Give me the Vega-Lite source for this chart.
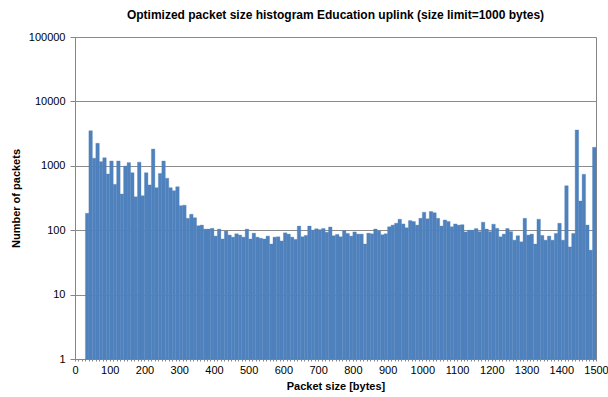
{
  "$schema": "https://vega.github.io/schema/vega-lite/v6.json",
  "width": 521,
  "height": 322,
  "autosize": {"type": "none"},
  "padding": {"left": 75, "top": 37, "right": 12, "bottom": 38},
  "background": "white",
  "config": {"font": "Liberation Sans", "view": {"stroke": "#868686", "strokeWidth": 1}},
  "title": {"text": "Optimized packet size histogram Education uplink (size limit=1000 bytes)", "font": "Liberation Sans", "fontSize": 12, "fontWeight": "bold", "color": "#000000", "offset": 9, "anchor": "middle"},
  "data": {"values": [
    {"lo": 30, "hi": 40, "count": 183},
    {"lo": 40, "hi": 50, "count": 3500},
    {"lo": 50, "hi": 60, "count": 1310},
    {"lo": 60, "hi": 70, "count": 2235},
    {"lo": 70, "hi": 80, "count": 1160},
    {"lo": 80, "hi": 90, "count": 1335},
    {"lo": 90, "hi": 100, "count": 746},
    {"lo": 100, "hi": 110, "count": 1188},
    {"lo": 110, "hi": 120, "count": 515},
    {"lo": 120, "hi": 130, "count": 1188},
    {"lo": 130, "hi": 140, "count": 364},
    {"lo": 140, "hi": 150, "count": 993},
    {"lo": 150, "hi": 160, "count": 1120},
    {"lo": 160, "hi": 170, "count": 780},
    {"lo": 170, "hi": 180, "count": 330},
    {"lo": 180, "hi": 190, "count": 1140},
    {"lo": 190, "hi": 200, "count": 343},
    {"lo": 200, "hi": 210, "count": 780},
    {"lo": 210, "hi": 220, "count": 505},
    {"lo": 220, "hi": 230, "count": 1820},
    {"lo": 230, "hi": 240, "count": 458},
    {"lo": 240, "hi": 250, "count": 760},
    {"lo": 250, "hi": 260, "count": 1188},
    {"lo": 260, "hi": 270, "count": 640},
    {"lo": 270, "hi": 280, "count": 458},
    {"lo": 280, "hi": 290, "count": 410},
    {"lo": 290, "hi": 300, "count": 473},
    {"lo": 300, "hi": 310, "count": 240},
    {"lo": 310, "hi": 320, "count": 245},
    {"lo": 320, "hi": 330, "count": 153},
    {"lo": 330, "hi": 340, "count": 177},
    {"lo": 340, "hi": 350, "count": 156},
    {"lo": 350, "hi": 360, "count": 117},
    {"lo": 360, "hi": 370, "count": 120},
    {"lo": 370, "hi": 380, "count": 104},
    {"lo": 380, "hi": 390, "count": 104},
    {"lo": 390, "hi": 400, "count": 107},
    {"lo": 400, "hi": 410, "count": 81},
    {"lo": 410, "hi": 420, "count": 104},
    {"lo": 420, "hi": 430, "count": 73},
    {"lo": 430, "hi": 440, "count": 97},
    {"lo": 440, "hi": 450, "count": 84},
    {"lo": 450, "hi": 460, "count": 78},
    {"lo": 460, "hi": 470, "count": 88},
    {"lo": 470, "hi": 480, "count": 84},
    {"lo": 480, "hi": 490, "count": 78},
    {"lo": 490, "hi": 500, "count": 104},
    {"lo": 500, "hi": 510, "count": 73},
    {"lo": 510, "hi": 520, "count": 90},
    {"lo": 520, "hi": 530, "count": 78},
    {"lo": 530, "hi": 540, "count": 75},
    {"lo": 540, "hi": 550, "count": 73},
    {"lo": 550, "hi": 560, "count": 81},
    {"lo": 560, "hi": 570, "count": 61},
    {"lo": 570, "hi": 580, "count": 78},
    {"lo": 580, "hi": 590, "count": 79},
    {"lo": 590, "hi": 600, "count": 68},
    {"lo": 600, "hi": 610, "count": 91},
    {"lo": 610, "hi": 620, "count": 87},
    {"lo": 620, "hi": 630, "count": 78},
    {"lo": 630, "hi": 640, "count": 72},
    {"lo": 640, "hi": 650, "count": 116},
    {"lo": 650, "hi": 660, "count": 79},
    {"lo": 660, "hi": 670, "count": 83},
    {"lo": 670, "hi": 680, "count": 116},
    {"lo": 680, "hi": 690, "count": 100},
    {"lo": 690, "hi": 700, "count": 105},
    {"lo": 700, "hi": 710, "count": 102},
    {"lo": 710, "hi": 720, "count": 106},
    {"lo": 720, "hi": 730, "count": 93},
    {"lo": 730, "hi": 740, "count": 112},
    {"lo": 740, "hi": 750, "count": 82},
    {"lo": 750, "hi": 760, "count": 86},
    {"lo": 760, "hi": 770, "count": 79},
    {"lo": 770, "hi": 780, "count": 98},
    {"lo": 780, "hi": 790, "count": 89},
    {"lo": 790, "hi": 800, "count": 81},
    {"lo": 800, "hi": 810, "count": 94},
    {"lo": 810, "hi": 820, "count": 87},
    {"lo": 820, "hi": 830, "count": 87},
    {"lo": 830, "hi": 840, "count": 61},
    {"lo": 840, "hi": 850, "count": 90},
    {"lo": 850, "hi": 860, "count": 88},
    {"lo": 860, "hi": 870, "count": 104},
    {"lo": 870, "hi": 880, "count": 97},
    {"lo": 880, "hi": 890, "count": 85},
    {"lo": 890, "hi": 900, "count": 88},
    {"lo": 900, "hi": 910, "count": 113},
    {"lo": 910, "hi": 920, "count": 120},
    {"lo": 920, "hi": 930, "count": 128},
    {"lo": 930, "hi": 940, "count": 148},
    {"lo": 940, "hi": 950, "count": 125},
    {"lo": 950, "hi": 960, "count": 109},
    {"lo": 960, "hi": 970, "count": 141},
    {"lo": 970, "hi": 980, "count": 136},
    {"lo": 980, "hi": 990, "count": 120},
    {"lo": 990, "hi": 1000, "count": 153},
    {"lo": 1000, "hi": 1010, "count": 190},
    {"lo": 1010, "hi": 1020, "count": 150},
    {"lo": 1020, "hi": 1030, "count": 195},
    {"lo": 1030, "hi": 1040, "count": 187},
    {"lo": 1040, "hi": 1050, "count": 153},
    {"lo": 1050, "hi": 1060, "count": 116},
    {"lo": 1060, "hi": 1070, "count": 144},
    {"lo": 1070, "hi": 1080, "count": 137},
    {"lo": 1080, "hi": 1090, "count": 113},
    {"lo": 1090, "hi": 1100, "count": 125},
    {"lo": 1100, "hi": 1110, "count": 120},
    {"lo": 1110, "hi": 1120, "count": 122},
    {"lo": 1120, "hi": 1130, "count": 94},
    {"lo": 1130, "hi": 1140, "count": 100},
    {"lo": 1140, "hi": 1150, "count": 100},
    {"lo": 1150, "hi": 1160, "count": 106},
    {"lo": 1160, "hi": 1170, "count": 95},
    {"lo": 1170, "hi": 1180, "count": 133},
    {"lo": 1180, "hi": 1190, "count": 104},
    {"lo": 1190, "hi": 1200, "count": 95},
    {"lo": 1200, "hi": 1210, "count": 124},
    {"lo": 1210, "hi": 1220, "count": 107},
    {"lo": 1220, "hi": 1230, "count": 79},
    {"lo": 1230, "hi": 1240, "count": 87},
    {"lo": 1240, "hi": 1250, "count": 106},
    {"lo": 1250, "hi": 1260, "count": 95},
    {"lo": 1260, "hi": 1270, "count": 70},
    {"lo": 1270, "hi": 1280, "count": 82},
    {"lo": 1280, "hi": 1290, "count": 66},
    {"lo": 1290, "hi": 1300, "count": 153},
    {"lo": 1300, "hi": 1310, "count": 84},
    {"lo": 1310, "hi": 1320, "count": 87},
    {"lo": 1320, "hi": 1330, "count": 61},
    {"lo": 1330, "hi": 1340, "count": 148},
    {"lo": 1340, "hi": 1350, "count": 83},
    {"lo": 1350, "hi": 1360, "count": 70},
    {"lo": 1360, "hi": 1370, "count": 81},
    {"lo": 1370, "hi": 1380, "count": 70},
    {"lo": 1380, "hi": 1390, "count": 89},
    {"lo": 1390, "hi": 1400, "count": 128},
    {"lo": 1400, "hi": 1410, "count": 70},
    {"lo": 1410, "hi": 1420, "count": 490},
    {"lo": 1420, "hi": 1430, "count": 55},
    {"lo": 1430, "hi": 1440, "count": 89},
    {"lo": 1440, "hi": 1450, "count": 3600},
    {"lo": 1450, "hi": 1460, "count": 283},
    {"lo": 1460, "hi": 1470, "count": 738},
    {"lo": 1470, "hi": 1480, "count": 120},
    {"lo": 1480, "hi": 1490, "count": 49},
    {"lo": 1490, "hi": 1500, "count": 1940}
  ]},
  "mark": {"type": "bar", "color": "#4f81bd", "stroke": "#4f81bd", "strokeWidth": 0.35},
  "encoding": {
    "x": {
      "field": "lo",
      "type": "quantitative",
      "scale": {"domain": [0, 1500], "nice": false, "zero": false},
      "axis": {
        "values": [0,10,20,30,40,50,60,70,80,90,100,110,120,130,140,150,160,170,180,190,200,210,220,230,240,250,260,270,280,290,300,310,320,330,340,350,360,370,380,390,400,410,420,430,440,450,460,470,480,490,500,510,520,530,540,550,560,570,580,590,600,610,620,630,640,650,660,670,680,690,700,710,720,730,740,750,760,770,780,790,800,810,820,830,840,850,860,870,880,890,900,910,920,930,940,950,960,970,980,990,1000,1010,1020,1030,1040,1050,1060,1070,1080,1090,1100,1110,1120,1130,1140,1150,1160,1170,1180,1190,1200,1210,1220,1230,1240,1250,1260,1270,1280,1290,1300,1310,1320,1330,1340,1350,1360,1370,1380,1390,1400,1410,1420,1430,1440,1450,1460,1470,1480,1490,1500],
        "format": "d",
        "labelExpr": "datum.value % 100 === 0 ? datum.label : ''",
        "labelOverlap": false,
        "labelFlush": false,
        "labelBound": false,
        "grid": false,
        "tickSize": 2,
        "tickColor": "#868686",
        "domainColor": "#868686",
        "labelFontSize": 11,
        "labelColor": "#000000",
        "labelPadding": 3,
        "title": "Packet size [bytes]",
        "titleFontSize": 11,
        "titleFontWeight": "bold",
        "titleColor": "#000000",
        "titlePadding": 5
      }
    },
    "x2": {"field": "hi"},
    "y": {
      "field": "count",
      "type": "quantitative",
      "scale": {"type": "log", "domain": [1, 100000], "nice": false},
      "axis": {
        "values": [1, 10, 100, 1000, 10000, 100000],
        "format": "d",
        "grid": true,
        "gridColor": "#8c8c8c",
        "tickSize": 5,
        "tickColor": "#868686",
        "domainColor": "#868686",
        "labelFontSize": 11,
        "labelColor": "#000000",
        "labelPadding": 5,
        "title": "Number of packets",
        "titleFontSize": 11,
        "titleFontWeight": "bold",
        "titleColor": "#000000",
        "titlePadding": 7
      }
    },
    "y2": {"datum": 1}
  }
}
